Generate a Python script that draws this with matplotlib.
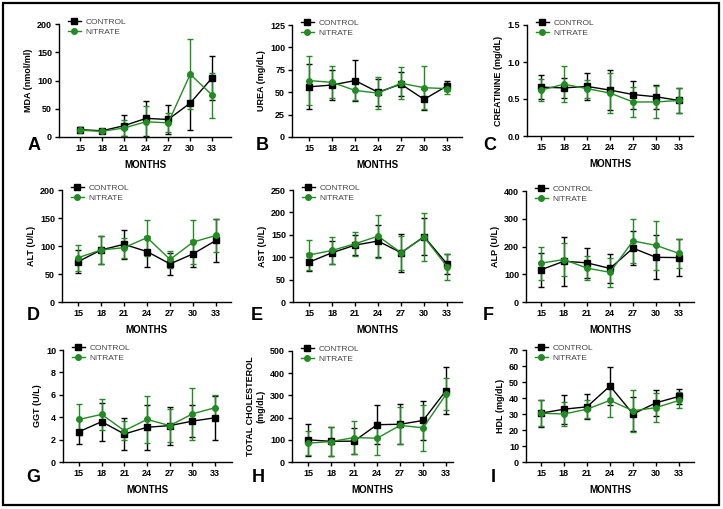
import matplotlib
matplotlib.use('Agg')
from matplotlib import pyplot as plt
from matplotlib.patches import Rectangle
from matplotlib.lines import Line2D

plt.rcParams['font.family'] = ['Liberation Sans', 'DejaVu Sans']

months = [15, 18, 21, 24, 27, 30, 33]

# A - MDA
mda_ctrl = [13, 11, 20, 33, 31, 60, 105]
mda_ctrl_sd = [4, 3, 19, 31, 26, 48, 39]
mda_nit = [12, 10, 16, 27, 25, 111, 74]
mda_nit_sd = [5, 3, 14, 27, 17, 62, 40]

# B - UREA
urea_ctrl = [56, 58, 63, 50, 59, 42, 57]
urea_ctrl_sd = [25, 17, 23, 15, 13, 12, 6]
urea_nit = [63, 61, 52, 49, 60, 55, 54]
urea_nit_sd = [27, 18, 11, 18, 18, 24, 6]

# C - CREATININE
crea_ctrl = [0.66, 0.65, 0.67, 0.62, 0.56, 0.53, 0.48]
crea_ctrl_sd = [0.16, 0.13, 0.18, 0.27, 0.19, 0.16, 0.17]
crea_nit = [0.62, 0.70, 0.64, 0.58, 0.46, 0.46, 0.48]
crea_nit_sd = [0.15, 0.245, 0.12, 0.27, 0.2, 0.22, 0.17]

# D - ALT
alt_ctrl = [72, 93, 103, 90, 68, 86, 110]
alt_ctrl_sd = [21, 25, 26, 28, 20, 24, 38]
alt_nit = [79, 93, 97, 115, 76, 107, 119]
alt_nit_sd = [23, 25, 18, 32, 15, 40, 29]

# E - AST
ast_ctrl = [89, 110, 127, 136, 110, 146, 85]
ast_ctrl_sd = [20, 26, 23, 36, 42, 41, 22]
ast_nit = [105, 115, 130, 147, 110, 145, 79]
ast_nit_sd = [33, 31, 27, 48, 38, 53, 29]

# F - ALP
alp_ctrl = [116, 147, 141, 121, 194, 161, 160]
alp_ctrl_sd = [62, 89, 53, 51, 62, 79, 67]
alp_nit = [140, 153, 122, 107, 220, 204, 175]
alp_nit_sd = [60, 61, 44, 53, 80, 88, 52]

# G - GGT
ggt_ctrl = [2.7, 3.6, 2.5, 3.1, 3.25, 3.65, 3.95]
ggt_ctrl_sd = [1.1, 1.7, 1.45, 2.0, 1.7, 1.4, 1.95]
ggt_nit = [3.8, 4.25, 2.8, 3.8, 3.25, 4.3, 4.85]
ggt_nit_sd = [1.4, 1.4, 0.85, 2.1, 1.5, 2.3, 1.1]

# H - TOTAL CHOLESTEROL
chol_ctrl = [100, 93, 94, 168, 170, 187, 322]
chol_ctrl_sd = [73, 65, 58, 87, 90, 90, 106]
chol_nit = [85, 92, 110, 107, 165, 154, 305]
chol_nit_sd = [55, 67, 76, 74, 85, 104, 73]

# I - HDL
hdl_ctrl = [30.5, 33, 34.5, 47.5, 30, 37, 41]
hdl_ctrl_sd = [8.5, 9, 7.7, 12, 10.7, 8.3, 4.5]
hdl_nit = [30.5, 30, 33, 38.5, 32, 34, 38.5]
hdl_nit_sd = [8.3, 7.5, 5.5, 10.5, 13, 9, 5]

W, H = 723, 509
GREEN = '#228B22'

fig = plt.figure(figsize=(W / 100, H / 100), dpi=100)

# (letter, ylabel, ctrl, ctrl_sd, nit, nit_sd, yticks, tick fmt, axes px box x0,x1,ytop,ybot, xlim, letter pos)
panels = [
    ('A', 'MDA (nmol/ml)', mda_ctrl, mda_ctrl_sd, mda_nit, mda_nit_sd,
     [0, 50, 100, 150, 200], '{:g}', (59, 231, 24, 137), (-0.95, 6.85), (34, 145)),
    ('B', 'UREA (mg/dL)', urea_ctrl, urea_ctrl_sd, urea_nit, urea_nit_sd,
     [0, 25, 50, 75, 100, 125], '{:g}', (292, 462, 25, 137), (-0.74, 6.65), (262, 145)),
    ('C', 'CREATININE (mg/dL)', crea_ctrl, crea_ctrl_sd, crea_nit, crea_nit_sd,
     [0, 0.5, 1.0, 1.5], '{:.1f}', (527, 693, 25, 136), (-0.61, 6.6), (490, 145)),
    ('D', 'ALT (U/L)', alt_ctrl, alt_ctrl_sd, alt_nit, alt_nit_sd,
     [0, 50, 100, 150, 200], '{:g}', (62, 231, 190, 302), (-0.7, 6.65), (33, 315)),
    ('E', 'AST (U/L)', ast_ctrl, ast_ctrl_sd, ast_nit, ast_nit_sd,
     [0, 50, 100, 150, 200, 250], '{:g}', (293, 462, 190, 302), (-0.7, 6.65), (257, 315)),
    ('F', 'ALP (U/L)', alp_ctrl, alp_ctrl_sd, alp_nit, alp_nit_sd,
     [0, 100, 200, 300, 400], '{:g}', (526, 694, 191, 302), (-0.65, 6.65), (488, 315)),
    ('G', 'GGT (U/L)', ggt_ctrl, ggt_ctrl_sd, ggt_nit, ggt_nit_sd,
     [0, 2, 4, 6, 8, 10], '{:g}', (63, 232, 350, 462), (-0.7, 6.74), (33, 477)),
    ('H', 'TOTAL CHOLESTEROL\n(mg/dL)', chol_ctrl, chol_ctrl_sd, chol_nit, chol_nit_sd,
     [0, 100, 200, 300, 400, 500], '{:g}', (292, 453, 351, 462), (-0.7, 6.3), (258, 477)),
    ('I', 'HDL (mg/dL)', hdl_ctrl, hdl_ctrl_sd, hdl_nit, hdl_nit_sd,
     [0, 10, 20, 30, 40, 50, 60, 70], '{:g}', (526, 694, 350, 462), (-0.65, 6.65), (493, 477)),
]

xs = list(range(len(months)))

handles = [
    Line2D([], [], color='black', marker='s', markersize=4, lw=1, label='CONTROL'),
    Line2D([], [], color=GREEN, marker='o', markersize=4, lw=1, label='NITRATE'),
]

for letter, ylab, c, csd, n, nsd, yt, fmt, box, xl, lpos in panels:
    x0, x1, yt_px, yb_px = box
    ax = fig.add_axes([x0 / W, (H - yb_px) / H, (x1 - x0) / W, (yb_px - yt_px) / H])
    ax.errorbar(xs, c, yerr=csd, color='black', marker='s', markersize=4,
                lw=1, elinewidth=1, capsize=2.5, capthick=1, clip_on=False)
    ax.errorbar(xs, n, yerr=nsd, color=GREEN, marker='o', markersize=4,
                lw=1, elinewidth=1, capsize=2.5, capthick=1, clip_on=False)
    ax.set_xlim(*xl)
    ax.set_ylim(yt[0], yt[-1])
    ax.set_yticks(yt)
    ax.set_yticklabels([fmt.format(v) for v in yt])
    ax.set_xticks(xs)
    ax.set_xticklabels([str(m) for m in months])
    for s in ['top', 'right']:
        ax.spines[s].set_visible(False)
    for s in ['left', 'bottom']:
        ax.spines[s].set_linewidth(1)
    ax.tick_params(length=3, width=1, labelsize=6.5, pad=2)
    for t in ax.get_xticklabels() + ax.get_yticklabels():
        t.set_fontweight('bold')
    ax.set_xlabel('MONTHS', fontsize=7, fontweight='bold', labelpad=5)
    ax.set_ylabel(ylab, fontsize=6.5, fontweight='bold', labelpad=3)
    hpx = yb_px - yt_px
    wpx = x1 - x0
    leg = ax.legend(handles=handles, loc='upper left', bbox_to_anchor=(9 / wpx, 1 + 6 / hpx),
                    frameon=False, fontsize=6, handlelength=1.5, handletextpad=0.6,
                    labelspacing=0.25, borderpad=0, borderaxespad=0)
    for t in leg.get_texts():
        t.set_color('#444444')
    fig.text(lpos[0] / W, (H - lpos[1]) / H, letter, fontsize=13, fontweight='bold',
             ha='center', va='center')

fig.add_artist(Rectangle((3 / W, 4 / H), 716 / W, 502 / H, transform=fig.transFigure,
                         fill=False, edgecolor='black', linewidth=1.6))

fig.savefig('out.png', dpi=100)
